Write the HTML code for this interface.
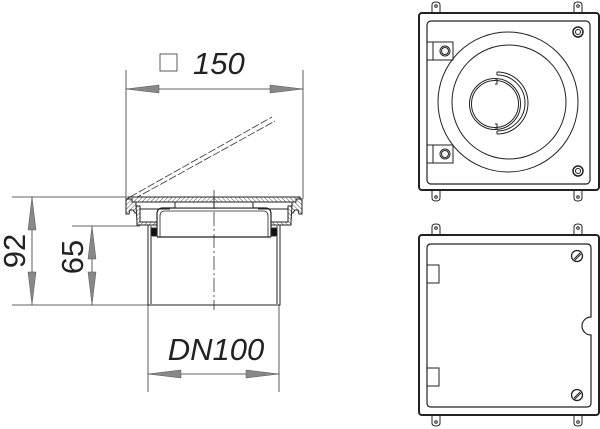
<!DOCTYPE html>
<html><head><style>body{margin:0;background:#fff}svg{display:block}</style></head><body>
<svg width="600" height="429" viewBox="0 0 600 429" xmlns="http://www.w3.org/2000/svg" font-family="Liberation Sans, sans-serif">
<defs>
<pattern id="h" width="3" height="3" patternUnits="userSpaceOnUse" patternTransform="rotate(45)"><rect width="3" height="3" fill="#fff"/><line x1="0" y1="0" x2="0" y2="3" stroke="#555" stroke-width="1"/></pattern>
<g id="half" stroke="#222" stroke-width="1" fill="none">
<rect x="128" y="197" width="86" height="5" fill="url(#h)"/>
<path d="M126,199 h6 v3 h4 v4 l3,3 v4 h-4 l-2,-3 h-3 l-1,4 h-3 z" fill="url(#h)"/>
<path d="M136,206 h4 v16 h17 v3 h-20 v-3 z" fill="url(#h)"/>
<path d="M140,209 h30" />
<path d="M157,237 V214 q0,-6 6,-6 H214" stroke-width="1.2"/>
<path d="M160,237 V216 q0,-5 5,-5 H214" stroke-width="0.8"/>
<path d="M148,225 V305 H214 M151,226 V304" />
<rect x="151" y="228" width="6" height="8" fill="#111" rx="2"/>
<path d="M157,237 H214" stroke-width="1.3"/>
<rect x="175" y="202" width="39" height="6" fill="#fff"/>
</g>
<g id="lug" stroke="#222" stroke-width="1" fill="#fff"><path d="M-4,10 V2 q0,-3 4,-3 q4,0 4,3 V10"/><circle cx="0" cy="3" r="1.3"/></g>
<polygon id="ah" points="0,0 33,-4 33,4" fill="#888" stroke="#555" stroke-width="0.5"/>
</defs>
<g stroke="#333" stroke-width="0.8" fill="none">
<line x1="126" y1="70" x2="126" y2="199"/><line x1="303" y1="70" x2="303" y2="199"/>
<line x1="126" y1="89" x2="303" y2="89"/>
<line x1="12" y1="197" x2="126" y2="197"/><line x1="72" y1="226" x2="140" y2="226"/><line x1="12" y1="305" x2="148" y2="305"/>
<line x1="32" y1="197" x2="32" y2="305"/><line x1="92" y1="226" x2="92" y2="305"/>
<line x1="148" y1="305" x2="148" y2="392"/><line x1="279" y1="305" x2="279" y2="392"/>
<line x1="148" y1="374" x2="279" y2="374"/>
<line x1="214" y1="190" x2="214" y2="310" stroke-dasharray="14,3,2,3"/>
<line x1="130" y1="197" x2="272" y2="117" stroke-dasharray="8,2"/><line x1="134" y1="199" x2="275" y2="121" stroke-dasharray="8,2"/>
</g>
<use href="#ah" transform="translate(126,89)"/><use href="#ah" transform="translate(303,89) rotate(180)"/>
<use href="#ah" transform="translate(148,374)"/><use href="#ah" transform="translate(279,374) rotate(180)"/>
<use href="#ah" transform="translate(32,197) rotate(90)"/><use href="#ah" transform="translate(32,305) rotate(-90)"/>
<use href="#ah" transform="translate(92,226) rotate(90)"/><use href="#ah" transform="translate(92,305) rotate(-90)"/>
<use href="#half"/><use href="#half" transform="translate(428,0) scale(-1,1)"/>
<rect x="160" y="54" width="17" height="17" fill="none" stroke="#333" stroke-width="0.8"/>
<text x="193" y="74" font-size="31" font-style="italic" fill="#222">150</text>
<text x="216" y="360" font-size="31" font-style="italic" fill="#222" text-anchor="middle">DN100</text>
<text transform="translate(25,251) rotate(-90)" font-size="31" fill="#222" text-anchor="middle">92</text>
<text transform="translate(83,257) rotate(-90)" font-size="31" fill="#222" text-anchor="middle">65</text>
<use href="#lug" transform="translate(436,3)"/><use href="#lug" transform="translate(578,3)"/>
<use href="#lug" transform="translate(436,200) scale(1,-1)"/><use href="#lug" transform="translate(578,200) scale(1,-1)"/>
<g stroke="#222" fill="none">
<rect x="419" y="13" width="180" height="177" rx="3" stroke-width="2" fill="#fff"/>
<rect x="427" y="21" width="163" height="163" rx="4" stroke-width="1.2"/>
<circle cx="508" cy="102" r="70"/><circle cx="509" cy="102" r="57"/>
<circle cx="495" cy="104" r="25.5"/><circle cx="495" cy="104" r="23.5"/>
<path d="M497,72 A31,31 0 0 1 497,134"/><path d="M497,75 A28,28 0 0 1 497,131"/>
<path d="M497,72 v3 M497,134 v-3 M495,79 h2 v5 h-2 M495,124 h2 v5 h-2"/>
<rect x="427" y="42" width="26" height="18"/><rect x="433" y="42" width="20" height="18"/><circle cx="445" cy="51" r="5"/><circle cx="445" cy="51" r="3.5"/>
<rect x="427" y="145" width="26" height="18"/><rect x="433" y="145" width="20" height="18"/><circle cx="445" cy="154" r="5"/><circle cx="445" cy="154" r="3.5"/>
<circle cx="578" cy="32" r="5" stroke-width="1.5"/><circle cx="578" cy="32" r="2.5"/>
<circle cx="578" cy="171" r="5" stroke-width="1.5"/><circle cx="578" cy="171" r="2.5"/>
</g>
<use href="#lug" transform="translate(436,225)"/><use href="#lug" transform="translate(578,225)"/>
<use href="#lug" transform="translate(436,425) scale(1,-1)"/><use href="#lug" transform="translate(578,425) scale(1,-1)"/>
<g stroke="#222" fill="none">
<rect x="419" y="235" width="180" height="180" rx="3" stroke-width="2" fill="#fff"/>
<path d="M431,244 H587 q4,0 4,4 V317 A9,9 0 0 0 591,335 V403 q0,4 -4,4 H431 q-4,0 -4,-4 V248 q0,-4 4,-4 z" stroke-width="1.2"/>
<rect x="427" y="265" width="12" height="18"/><rect x="427" y="368" width="12" height="18"/>
<circle cx="577" cy="256" r="5.5" stroke-width="1.3"/><line x1="574" y1="259" x2="580" y2="253"/><line x1="575" y1="260" x2="581" y2="254"/>
<circle cx="577" cy="395" r="5.5" stroke-width="1.3"/><line x1="574" y1="398" x2="580" y2="392"/><line x1="575" y1="399" x2="581" y2="393"/>
</g>
</svg>
</body></html>
